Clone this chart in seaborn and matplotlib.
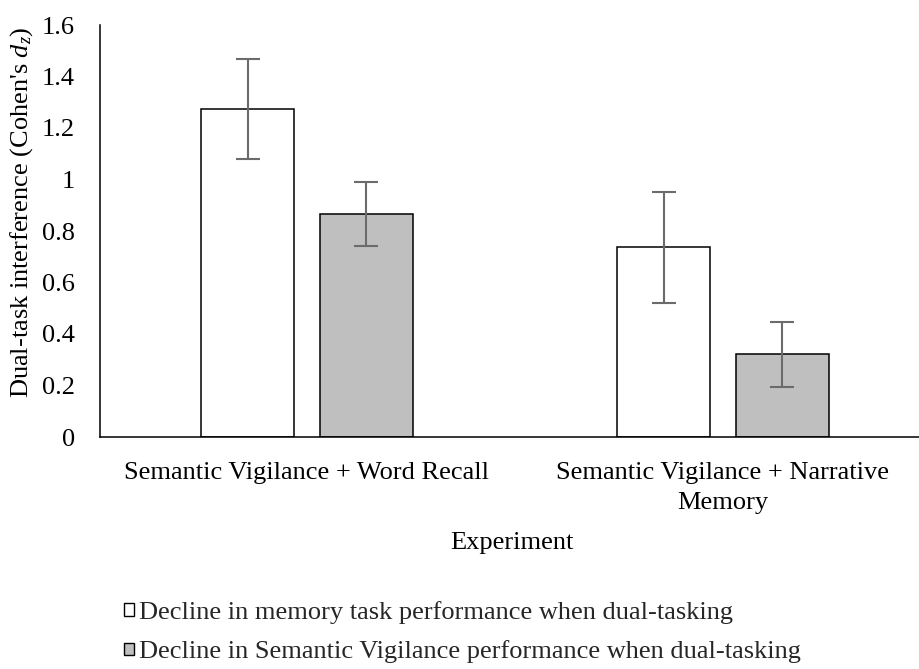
import matplotlib
matplotlib.use("Agg")
import matplotlib.pyplot as plt
from matplotlib.patches import Patch
import seaborn as sns
import pandas as pd

# Effect sizes (Cohen's d_z) with their error-bar half-widths
experiments = ["Semantic Vigilance + Word Recall",
               "Semantic Vigilance + Narrative\nMemory"]
series = ["Decline in memory task performance when dual-tasking",
          "Decline in Semantic Vigilance performance when dual-tasking"]
memory_decline = [1.274, 0.737]
memory_err = [0.193, 0.215]
vigilance_decline = [0.866, 0.322]
vigilance_err = [0.123, 0.126]
y_ticks = [0, 0.2, 0.4, 0.6, 0.8, 1, 1.2, 1.4, 1.6]
y_tick_labels = ["0", "0.2", "0.4", "0.6", "0.8", "1", "1.2", "1.4", "1.6"]

sns.set_theme(style="white")
plt.rcParams["font.family"] = ["Liberation Serif", "DejaVu Serif"]
plt.rcParams["mathtext.fontset"] = "custom"
plt.rcParams["mathtext.rm"] = "Liberation Serif"
plt.rcParams["mathtext.it"] = "Liberation Serif:italic"

FS = 19
W, H = 920, 669

df = pd.DataFrame({
    "Experiment": experiments * 2,
    "Series": [series[0]] * 2 + [series[1]] * 2,
    "Value": memory_decline + vigilance_decline,
})
errors = {series[0]: memory_err, series[1]: vigilance_err}
colors = ["#FFFFFF", "#BFBFBF"]

fig = plt.figure(figsize=(W / 100, H / 100), dpi=100)
ax = fig.add_axes([100 / W, (H - 437) / H, 820 / W, 412 / H])

sns.barplot(data=df, x="Experiment", y="Value", hue="Series",
            hue_order=series, order=experiments, palette=colors,
            width=0.572, gap=0.218, edgecolor="black", linewidth=1.1,
            errorbar=None, legend=False, ax=ax)

# error bars centred on each drawn bar
for container, name in zip(ax.containers, series):
    for bar, err in zip(container, errors[name]):
        cx = bar.get_x() + bar.get_width() / 2
        ax.errorbar(cx, bar.get_height(), yerr=err, color="#6B6B6B",
                    lw=1.5, capsize=8.5, capthick=1.5, zorder=5)

ax.set_xlim(-0.4976, 1.4736)
ax.set_ylim(0, 1.6)
ax.set_yticks(y_ticks)
ax.set_yticklabels(y_tick_labels)
ax.tick_params(axis="both", length=0, labelsize=FS, colors="black")
ax.tick_params(axis="y", pad=18)
ax.tick_params(axis="x", pad=18)
for lbl in ax.get_xticklabels():
    lbl.set_linespacing(1.45)

for side in ["top", "right"]:
    ax.spines[side].set_visible(False)
for side in ["left", "bottom"]:
    ax.spines[side].set_color("black")
    ax.spines[side].set_linewidth(1.1)
ax.spines["bottom"].set_zorder(6)

ax.set_ylabel("Dual-task interference (Cohen's $d_z$)", fontsize=FS, color="black")
ax.yaxis.label.set_va("center")
ax.yaxis.set_label_coords((22 - 100) / 820, (437 - 212) / 412)
ax.set_xlabel("Experiment", fontsize=FS, color="black")
ax.xaxis.label.set_va("center")
ax.xaxis.set_label_coords((512 - 100) / 820, (437 - 543) / 412)

handles = [Patch(facecolor=c, edgecolor="black", linewidth=1.0) for c in colors]
fig.legend(handles, series, loc="upper left",
           bbox_to_anchor=(124 / W, 1 - 601 / H), frameon=False,
           fontsize=FS, handlelength=0.36, handleheight=0.36,
           handletextpad=0.22, labelspacing=0.62, borderpad=0, borderaxespad=0)

fig.savefig("out.png", dpi=100)
